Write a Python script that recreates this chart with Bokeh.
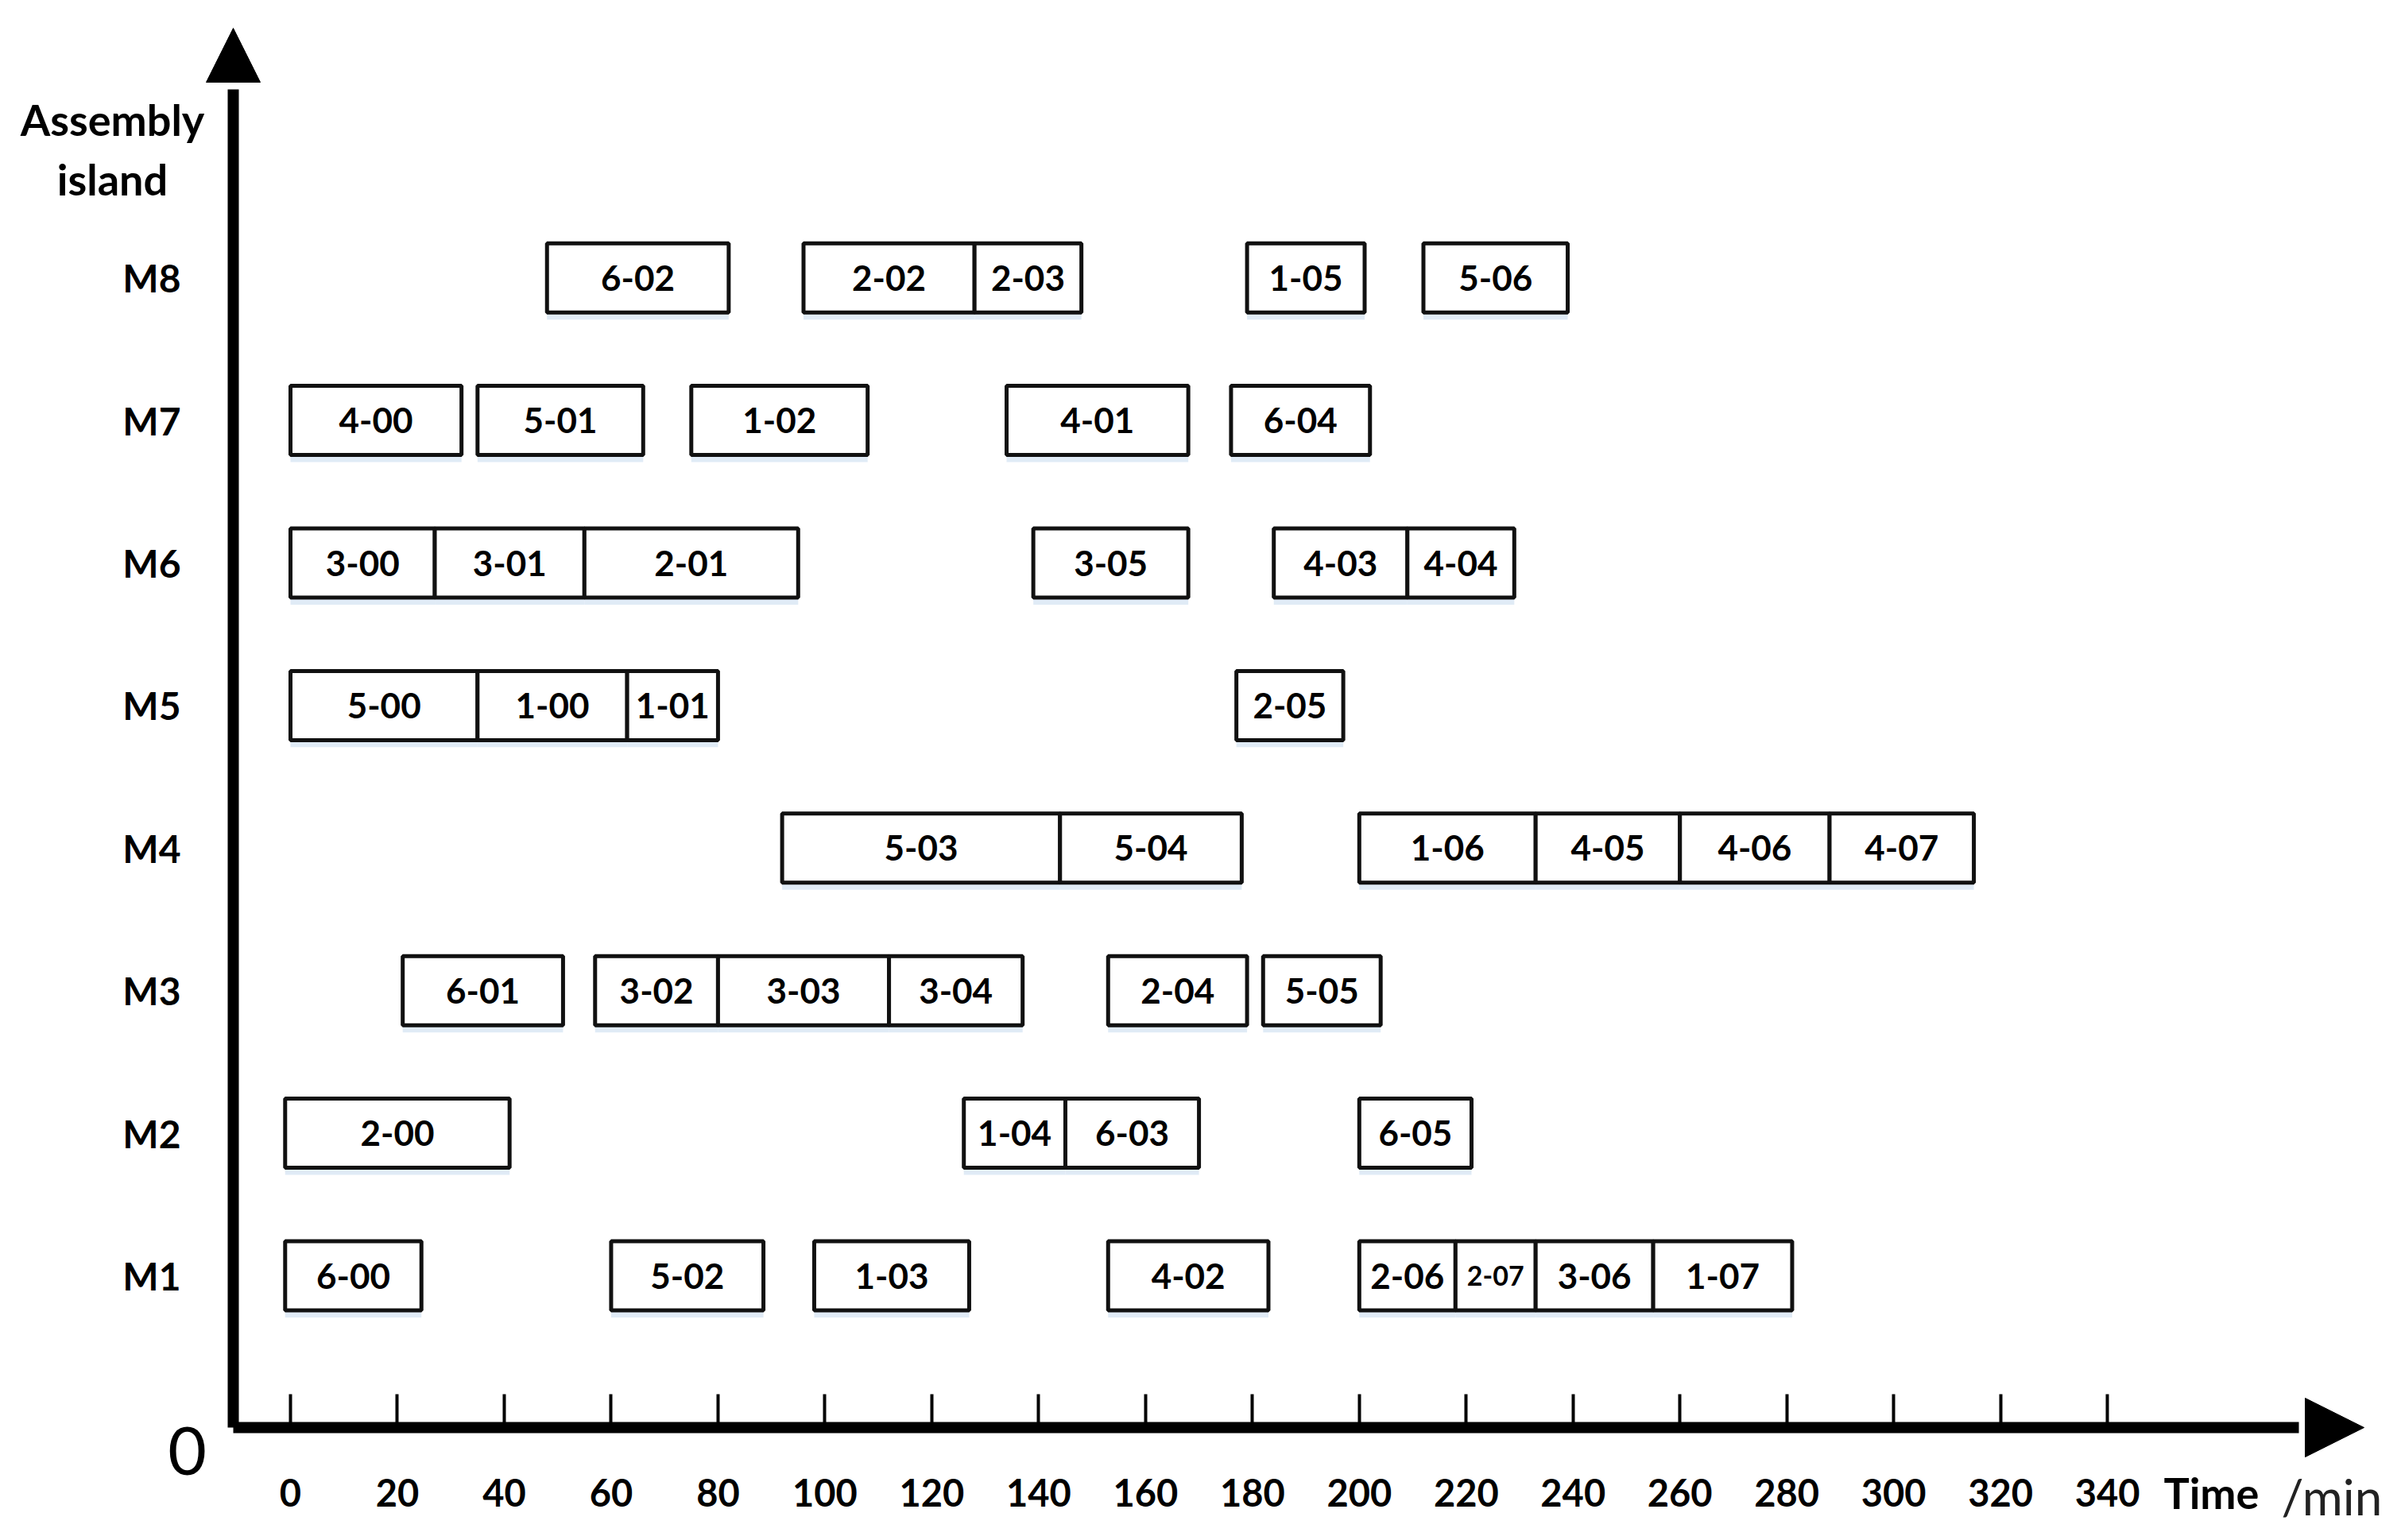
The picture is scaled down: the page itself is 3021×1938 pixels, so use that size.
from bokeh.plotting import figure
from bokeh.models import Range1d, FixedTicker, Label, Arrow, NormalHead, ColumnDataSource
from bokeh.core.properties import value
from bokeh.embed import file_html
from bokeh.resources import INLINE

# ---------------- data (minutes) ----------------
islands = ["M1", "M2", "M3", "M4", "M5", "M6", "M7", "M8"]
time_ticks = list(range(0, 341, 20))

m8_tasks = ["6-02", "2-02", "2-03", "1-05", "5-06"]
m8_start = [48, 96, 128, 179, 212]
m8_end = [82, 128, 148, 201, 239]

m7_tasks = ["4-00", "5-01", "1-02", "4-01", "6-04"]
m7_start = [0, 35, 75, 134, 176]
m7_end = [32, 66, 108, 168, 202]

m6_tasks = ["3-00", "3-01", "2-01", "3-05", "4-03", "4-04"]
m6_start = [0, 27, 55, 139, 184, 209]
m6_end = [27, 55, 95, 168, 209, 229]

m5_tasks = ["5-00", "1-00", "1-01", "2-05"]
m5_start = [0, 35, 63, 177]
m5_end = [35, 63, 80, 197]

m4_tasks = ["5-03", "5-04", "1-06", "4-05", "4-06", "4-07"]
m4_start = [92, 144, 200, 233, 260, 288]
m4_end = [144, 178, 233, 260, 288, 315]

m3_tasks = ["6-01", "3-02", "3-03", "3-04", "2-04", "5-05"]
m3_start = [21, 57, 80, 112, 153, 182]
m3_end = [51, 80, 112, 137, 179, 204]

m2_tasks = ["2-00", "1-04", "6-03", "6-05"]
m2_start = [-1, 126, 145, 200]
m2_end = [41, 145, 170, 221]

m1_tasks = ["6-00", "5-02", "1-03", "4-02", "2-06", "2-07", "3-06", "1-07"]
m1_start = [-1, 60, 98, 153, 200, 218, 233, 255]
m1_end = [24.5, 88.5, 127, 183, 218, 233, 255, 281]

rows = [
    (1, m1_tasks, m1_start, m1_end),
    (2, m2_tasks, m2_start, m2_end),
    (3, m3_tasks, m3_start, m3_end),
    (4, m4_tasks, m4_start, m4_end),
    (5, m5_tasks, m5_start, m5_end),
    (6, m6_tasks, m6_start, m6_end),
    (7, m7_tasks, m7_start, m7_end),
    (8, m8_tasks, m8_start, m8_end),
]

# ---------------- layout constants ----------------
FONT = "Lato"
W, H = 3005, 1922
PX_PER_MIN = 6.724
PX_PER_ROW = 179.4
ORIGIN_PX_X = 365      # image x of time 0
ROW1_PX_Y = 1605       # image y of row M1
CANVAS_X, CANVAS_Y = 0, 0


def px_x(px):
    return (px - ORIGIN_PX_X) / PX_PER_MIN


def px_y(py):
    return 1 + (ROW1_PX_Y - py) / PX_PER_ROW


X0, X1 = px_x(CANVAS_X), px_x(CANVAS_X + W)
Y0, Y1 = px_y(CANVAS_Y + H), px_y(CANVAS_Y)
AX_X = px_x(293)      # vertical axis position
AX_Y = px_y(1796)     # horizontal axis position
BOX_H = 0.485

task, left, right, row, cx, fsize = [], [], [], [], [], []
for r, t, s, e in rows:
    for ti, si, ei in zip(t, s, e):
        task.append(ti)
        left.append(si)
        right.append(ei)
        row.append(r)
        cx.append((si + ei) / 2)
        fsize.append("34px" if (ei - si) < 16 else "44px")

src = ColumnDataSource(dict(task=task, left=left, right=right, row=row, cx=cx,
                            top=[v + BOX_H / 2 for v in row],
                            bottom=[v - BOX_H / 2 for v in row],
                            sh_top=[v - BOX_H / 2 for v in row],
                            sh_bottom=[v - BOX_H / 2 - 0.05 for v in row],
                            fsize=fsize))

p = figure(width=W, height=H, output_backend="svg", toolbar_location=None,
           x_range=Range1d(X0, X1), y_range=Range1d(Y0, Y1),
           min_border_left=0, min_border_right=0, min_border_top=0,
           min_border_bottom=0)
p.outline_line_color = None
p.xgrid.visible = False
p.ygrid.visible = False
p.background_fill_color = "white"
p.border_fill_color = "white"

# shadows
p.quad(left="left", right="right", top="sh_top", bottom="sh_bottom", source=src,
       fill_color="#d8e6f4", fill_alpha=0.8, line_color=None)
# boxes
p.quad(left="left", right="right", top="top", bottom="bottom", source=src,
       fill_color="white", line_color="#111111", line_width=5)
p.text(x="cx", y="row", text="task", source=src, text_align="center",
       text_baseline="middle", text_font=value(FONT), text_font_style="bold",
       text_font_size="fsize", text_color="black")

# x axis
xa = p.xaxis[0]
xa.fixed_location = AX_Y
xa.ticker = FixedTicker(ticks=time_ticks)
xa.bounds = (AX_X, px_x(2892))
xa.axis_line_width = 14
xa.axis_line_color = "black"
xa.major_tick_in = 42
xa.major_tick_out = 0
xa.major_tick_line_width = 4
xa.major_tick_line_color = "black"
xa.minor_tick_line_color = None
xa.major_label_standoff = 64
xa.major_label_text_font = FONT
xa.major_label_text_font_style = "bold"
xa.major_label_text_font_size = "47px"
xa.major_label_text_color = "black"

# y axis
ya = p.yaxis[0]
ya.fixed_location = AX_X
ya.ticker = FixedTicker(ticks=list(range(1, 9)))
ya.major_label_overrides = {i + 1: name for i, name in enumerate(islands)}
ya.bounds = (AX_Y, px_y(112))
ya.axis_line_width = 14
ya.axis_line_color = "black"
ya.major_tick_line_color = None
ya.minor_tick_line_color = None
ya.major_label_standoff = 60
ya.major_label_text_font = FONT
ya.major_label_text_font_style = "bold"
ya.major_label_text_font_size = "48px"
ya.major_label_text_color = "black"

# arrow heads
p.add_layout(Arrow(end=NormalHead(size=74, fill_color="black", line_color="black"),
                   x_start=px_x(2880), y_start=AX_Y, x_end=px_x(2974), y_end=AX_Y,
                   line_color="black", line_width=1, line_alpha=0))
p.add_layout(Arrow(end=NormalHead(size=68, fill_color="black", line_color="black"),
                   x_start=AX_X, y_start=px_y(125), x_end=AX_X, y_end=px_y(35),
                   line_color="black", line_width=1, line_alpha=0))

# annotation texts
p.add_layout(Label(x=px_x(141), y=px_y(150), text="Assembly", text_align="center",
                   text_baseline="middle", text_font=FONT, text_font_style="bold",
                   text_font_size="54px", text_color="black"))
p.add_layout(Label(x=px_x(141), y=px_y(225), text="island", text_align="center",
                   text_baseline="middle", text_font=FONT, text_font_style="bold",
                   text_font_size="54px", text_color="black"))
p.add_layout(Label(x=px_x(235), y=px_y(1825), text="0", text_align="center",
                   text_baseline="middle", text_font=FONT, text_font_style="normal",
                   text_font_size="84px", text_color="black"))
p.add_layout(Label(x=px_x(2722), y=px_y(1878), text="Time", text_align="left",
                   text_baseline="middle", text_font=FONT, text_font_style="bold",
                   text_font_size="54px", text_color="black"))
p.add_layout(Label(x=px_x(2870), y=px_y(1882), text="/min", text_align="left",
                   text_baseline="middle", text_font=FONT, text_font_style="normal",
                   text_font_size="62px", text_color="#222222"))

open("out.html", "w").write(file_html(p, INLINE))
